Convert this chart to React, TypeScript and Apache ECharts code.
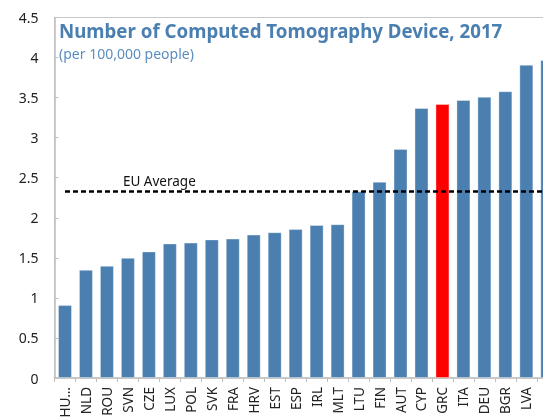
import React, { useEffect, useRef } from "react";
import * as echarts from "echarts";

const categories = ["HUN", "NLD", "ROU", "SVN", "CZE", "LUX", "POL", "SVK", "FRA", "HRV", "EST", "ESP", "IRL", "MLT", "LTU", "FIN", "AUT", "CYP", "GRC", "ITA", "DEU", "BGR", "LVA", "DNK"];
const values = [0.91, 1.35, 1.40, 1.50, 1.58, 1.68, 1.69, 1.73, 1.74, 1.79, 1.82, 1.86, 1.91, 1.92, 2.33, 2.45, 2.86, 3.37, 3.42, 3.47, 3.51, 3.58, 3.91, 3.97];
const highlight = "GRC";
const euAverage = 2.33;
const yTicks = { min: 0, max: 4.5, interval: 0.5 };

const BLUE = "#4a7fb0";
const FONT = "'Noto Sans', 'Open Sans', sans-serif";

export default function App() {
  const ref = useRef<HTMLDivElement>(null);
  useEffect(() => {
    if (!ref.current) return;
    const chart = echarts.init(ref.current, null, { renderer: "svg" });
    chart.setOption({
      animation: false,
      textStyle: { fontFamily: FONT },
      title: [
        {
          text: "Number of Computed Tomography Device, 2017",
          left: 59,
          top: 21,
          padding: 0,
          textStyle: { fontSize: 18.7, fontWeight: "bold", color: BLUE, fontFamily: FONT },
        },
        {
          text: "(per 100,000 people)",
          left: 59,
          top: 46,
          padding: 0,
          textStyle: { fontSize: 14, fontWeight: "normal", color: "#5a8ec0", fontFamily: FONT },
        },
      ],
      grid: {
        left: 54.5,
        right: 0.2,
        top: 17.5,
        bottom: 41,
        show: true,
        borderColor: "#c8c8c8",
        borderWidth: 1,
        containLabel: false,
        outerBoundsMode: "none",
      },
      xAxis: {
        type: "category",
        data: categories,
        axisLine: { lineStyle: { color: "#bfbfbf", width: 1.5 } },
        axisTick: { show: true, length: 4, lineStyle: { color: "#bfbfbf" } },
        axisLabel: {
          rotate: 90,
          interval: 0,
          fontSize: 13.5,
          color: "#222",
          margin: 9,
          fontFamily: FONT,
          formatter: (v: string, i: number) =>
            i === categories.length - 1 ? "" : v === "HUN" ? "HU..." : v,
        },
      },
      yAxis: {
        type: "value",
        min: yTicks.min,
        max: yTicks.max,
        interval: yTicks.interval,
        splitLine: { show: false },
        axisLine: { show: true, lineStyle: { color: "#bfbfbf", width: 1.5 } },
        axisTick: { show: true, inside: true, length: 4, lineStyle: { color: "#bfbfbf" } },
        axisLabel: { fontSize: 14, color: "#222", margin: 16, fontFamily: FONT },
      },
      series: [
        {
          type: "bar",
          data: values.map((v, i) => ({
            value: v,
            itemStyle: { color: categories[i] === highlight ? "#ff0000" : BLUE },
          })),
          barWidth: 14,
          itemStyle: { borderColor: "rgba(255,255,255,0.35)", borderWidth: 1 },
          markLine: {
            silent: true,
            symbol: "none",
            label: { show: false },
            lineStyle: { color: "#000", type: [5, 3], width: 2.5 },
            data: [[
              { coord: [0, euAverage] },
              { coord: [categories.length - 1, euAverage] },
            ]],
          },
          markPoint: {
            symbolSize: 0,
            silent: true,
            data: [{ coord: [4, euAverage], value: 0 }],
            label: {
              show: true,
              formatter: "EU Average",
              position: "inside",
              offset: [10.5, -10],
              fontSize: 13.5,
              color: "#111",
              fontFamily: FONT,
            },
          },
        },
      ],
    });
    return () => chart.dispose();
  }, []);
  return (
    <div style={{ position: "fixed", left: 0, top: 0, width: 543, height: 419, overflow: "hidden" }}>
      <div ref={ref} style={{ width: 558, height: 419 }} />
    </div>
  );
}
